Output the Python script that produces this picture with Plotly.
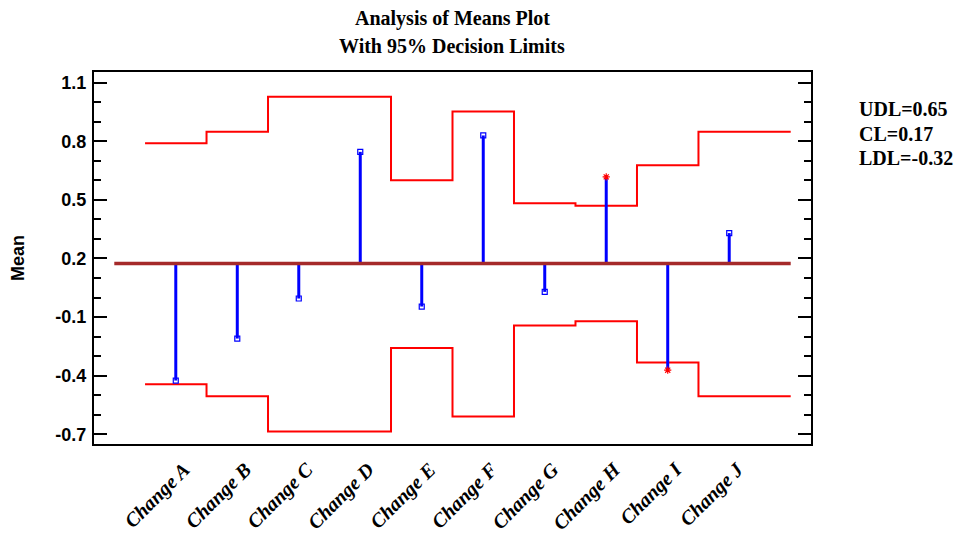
import plotly.graph_objects as go

categories = ["Change A", "Change B", "Change C", "Change D", "Change E",
              "Change F", "Change G", "Change H", "Change I", "Change J"]
means = [-0.425, -0.21, -0.005, 0.746, -0.046, 0.830, 0.029, 0.618, -0.372, 0.330]
udl = [0.790, 0.849, 1.028, 1.028, 0.601, 0.953, 0.483, 0.470, 0.678, 0.849]
ldl = [-0.444, -0.505, -0.686, -0.686, -0.259, -0.609, -0.143, -0.121, -0.333, -0.505]
center_line = 0.174
y_ticks = [-0.7, -0.4, -0.1, 0.2, 0.5, 0.8, 1.1]
summary_labels = ["UDL=0.65", "CL=0.17", "LDL=-0.32"]
title_lines = ["Analysis of Means Plot", "With 95% Decision Limits"]

n = len(categories)
pos = list(range(1, n + 1))

fig = go.Figure()

# step limits
step_x = [p - 0.5 for p in pos] + [n + 1]
for lim in (udl, ldl):
    fig.add_trace(go.Scatter(
        x=step_x, y=lim + [lim[-1]], mode="lines", line_shape="hv",
        line=dict(color="#FF0000", width=2), hoverinfo="skip", showlegend=False))

# stems
sx, sy = [], []
for p, m in zip(pos, means):
    sx += [p, p, None]
    sy += [center_line, m, None]
fig.add_trace(go.Scatter(x=sx, y=sy, mode="lines",
                         line=dict(color="#0000FF", width=3),
                         hoverinfo="skip", showlegend=False))

# center line
fig.add_trace(go.Scatter(x=[0, n + 1], y=[center_line, center_line], mode="lines",
                         line=dict(color="#A52A2A", width=3.5),
                         hoverinfo="skip", showlegend=False))

# markers
inside = [(p, m) for p, m, u, l in zip(pos, means, udl, ldl) if l <= m <= u]
outside = [(p, m) for p, m, u, l in zip(pos, means, udl, ldl) if not (l <= m <= u)]
fig.add_trace(go.Scatter(x=[a for a, b in inside], y=[b for a, b in inside], mode="markers",
                         marker=dict(symbol="square-open", size=5, color="#0000FF",
                                     line=dict(width=1.2, color="#0000FF")),
                         showlegend=False))
fig.add_trace(go.Scatter(x=[a for a, b in outside], y=[b for a, b in outside], mode="markers",
                         marker=dict(symbol="asterisk-open", size=6, color="#FF0000",
                                     line=dict(width=1.2, color="#FF0000")),
                         showlegend=False))

serif = "Liberation Serif, Times New Roman, serif"
sans = "Liberation Sans, Arial, sans-serif"

# the page body has an 8px margin; figure coords = page coords - 8
L, R, T, B = 94, 811, 72, 444
OFF = 8
W, H = 954, 529

fig.update_layout(
    width=W, height=H,
    margin=dict(l=L - OFF, r=W - (R - OFF), t=T - OFF, b=H - (B - OFF), autoexpand=False),
    paper_bgcolor="white", plot_bgcolor="white",
    showlegend=False,
    xaxis=dict(
        range=[-0.33, 11.33], tickmode="array", tickvals=pos,
        ticktext=["<b><i>%s</i></b>" % c for c in categories],
        tickangle=-45, ticks="", showgrid=False, zeroline=False,
        showline=True, linecolor="black", linewidth=2, mirror=True,
        tickfont=dict(family=serif, size=20, color="black"),
        ticklabelstandoff=4, ticklabelshift=8,
    ),
    yaxis=dict(
        range=[-0.75, 1.155], tickmode="array", tickvals=y_ticks,
        ticktext=["<b>%s</b>" % f"{v:.1f}" for v in y_ticks],
        ticks="inside", ticklen=13, tickwidth=1.5, tickcolor="black",
        minor=dict(tickmode="linear", tick0=-0.7, dtick=0.1, ticks="inside",
                   ticklen=7, tickwidth=1.5, tickcolor="black"),
        showgrid=False, zeroline=False,
        showline=True, linecolor="black", linewidth=2, mirror="allticks",
        tickfont=dict(family=sans, size=18, color="black"),
        ticklabelstandoff=2,
        title=dict(text="<b>Mean</b>", font=dict(family=sans, size=18, color="black"),
                   standoff=27),
    ),
)

# title lines
for txt, yp in zip(title_lines, [19, 46]):
    fig.add_annotation(text="<b>%s</b>" % txt, xref="paper", yref="paper",
                       x=(452 - L) / (R - L), y=(B - yp) / (B - T),
                       xanchor="center", yanchor="middle", showarrow=False,
                       font=dict(family=serif, size=20, color="black"))

# summary labels
for txt, yp in zip(summary_labels, [109, 134, 158]):
    fig.add_annotation(text="<b>%s</b>" % txt, xref="paper", yref="paper",
                       x=(857 - L) / (R - L), y=(B - yp) / (B - T),
                       xanchor="left", yanchor="middle", showarrow=False,
                       font=dict(family=serif, size=20, color="black"))

fig.write_html("out.html")
